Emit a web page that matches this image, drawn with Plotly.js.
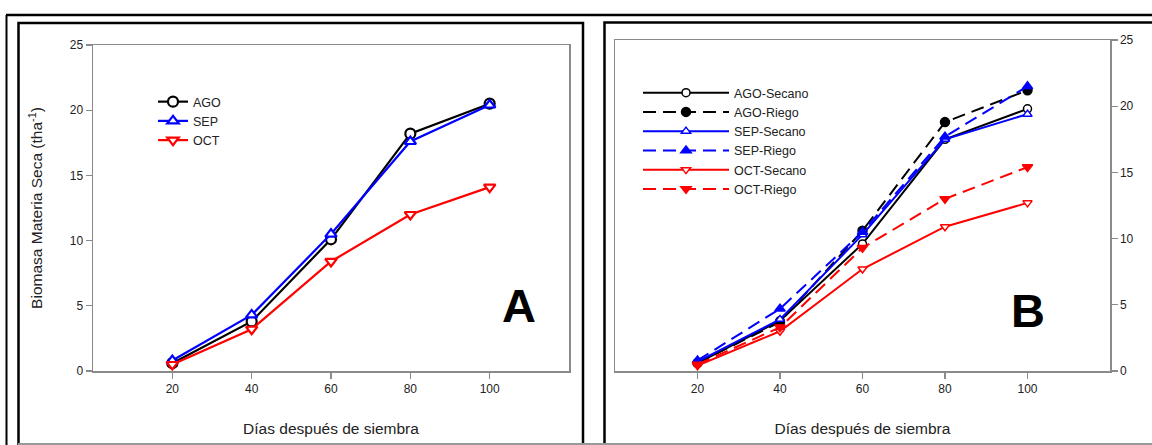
<!DOCTYPE html>
<html>
<head>
<meta charset="utf-8">
<script src="https://cdn.plot.ly/plotly-3.0.1.min.js"></script>
<style>
  html, body { margin: 0; padding: 0; background: #fff; }
  #chart { width: 1152px; height: 445px; }
</style>
</head>
<body>
<div id="chart"></div>
<script>
// ---- Data ----
const days = [20, 40, 60, 80, 100];
const xTickVals = [20, 40, 60, 80, 100];
const xEndTicks = [0, 120];
const yTickVals = [0, 5, 10, 15, 20, 25];
const yInnerTicks = [5, 10, 15, 20];

// Panel A
const namesA = ['AGO', 'SEP', 'OCT'];
const agoA = [0.6, 3.8, 10.1, 18.2, 20.5];
const sepA = [0.8, 4.3, 10.5, 17.6, 20.4];
const octA = [0.5, 3.2, 8.4, 12.0, 14.1];

// Panel B
const namesB = ['AGO-Secano', 'AGO-Riego', 'SEP-Secano', 'SEP-Riego', 'OCT-Secano', 'OCT-Riego'];
const agoSecano = [0.6, 3.8, 9.6, 17.5, 19.8];
const agoRiego  = [0.6, 3.7, 10.6, 18.8, 21.2];
const sepSecano = [0.7, 3.9, 10.3, 17.5, 19.4];
const sepRiego  = [0.8, 4.7, 10.5, 17.7, 21.5];
const octSecano = [0.4, 3.0, 7.7, 10.9, 12.7];
const octRiego  = [0.5, 3.3, 9.3, 13.0, 15.4];

const labelA = 'A';
const labelB = 'B';
const xTitle = 'Días después de siembra';
const yTitle = 'Biomasa Materia Seca (tha<sup>-1</sup>)';

// ---- helpers ----
const W = 1152, H = 445;
const px = x => x / W;
const py = y => 1 - y / H;
const FONT = 'Liberation Sans, Arial, sans-serif';
const AX = '#8a8a8a';

function traceA(name, y, color, symbol) {
  return {
    x: days, y: y, name: name, type: 'scatter', mode: 'lines+markers',
    xaxis: 'x', yaxis: 'y', legend: 'legend',
    line: { color: color, width: 2.2 },
    marker: { symbol: symbol, size: 10, color: '#ffffff', line: { color: color, width: 2.2 } },
    hoverinfo: 'x+y+name'
  };
}
function traceB(name, y, color, symbol, dashed) {
  return {
    x: days, y: y, name: name, type: 'scatter', mode: 'lines+markers',
    xaxis: 'x2', yaxis: 'y2', legend: 'legend2',
    line: { color: color, width: 2, dash: dashed ? '13px,7px' : 'solid' },
    marker: { symbol: symbol, size: dashed ? 9 : 8, color: dashed ? color : '#ffffff',
              line: { color: color, width: 1.5 } },
    hoverinfo: 'x+y+name'
  };
}

const data = [
  traceA(namesA[0], agoA, '#000000', 'circle'),
  traceA(namesA[1], sepA, '#0000ff', 'triangle-up'),
  traceA(namesA[2], octA, '#ff0000', 'triangle-down'),
  traceB(namesB[0], agoSecano, '#000000', 'circle', false),
  traceB(namesB[1], agoRiego, '#000000', 'circle', true),
  traceB(namesB[2], sepSecano, '#0000ff', 'triangle-up', false),
  traceB(namesB[3], sepRiego, '#0000ff', 'triangle-up', true),
  traceB(namesB[4], octSecano, '#ff0000', 'triangle-down', false),
  traceB(namesB[5], octRiego, '#ff0000', 'triangle-down', true)
];

const tickFont = { family: FONT, size: 12, color: '#222' };
const titleFont = { family: FONT, size: 15.5, color: '#222' };

function xAxis(domain, anchor) {
  return {
    domain: domain, anchor: anchor, range: [0, 120],
    tickmode: 'array', tickvals: xTickVals,
    ticks: 'outside', ticklen: 6, tickwidth: 1.2, tickcolor: AX,
    showline: true, linecolor: AX, linewidth: 1.5, mirror: true,
    showgrid: false, zeroline: false, tickfont: tickFont,
    title: { text: xTitle, font: titleFont, standoff: 28 },
    automargin: false, fixedrange: true
  };
}
function endTickAxis(over, anchor) {
  return {
    overlaying: over, anchor: anchor, side: 'bottom', range: [0, 120],
    tickmode: 'array', tickvals: xEndTicks,
    ticks: 'outside', ticklen: 6, tickwidth: 1.2, tickcolor: AX,
    showticklabels: false, showline: false, showgrid: false, zeroline: false,
    fixedrange: true
  };
}
function innerTickAxis(over, anchor, side) {
  return {
    overlaying: over, anchor: anchor, side: side, range: [0, 25],
    tickmode: 'array', tickvals: yInnerTicks,
    ticks: 'inside', ticklen: 6, tickwidth: 1.2, tickcolor: AX,
    showticklabels: false, showline: false, showgrid: false, zeroline: false,
    fixedrange: true
  };
}

const layout = {
  width: W, height: H,
  margin: { l: 0, r: 0, t: 0, b: 0 },
  paper_bgcolor: '#ffffff', plot_bgcolor: '#ffffff',
  font: { family: FONT, size: 12, color: '#222' },
  showlegend: true,
  xaxis: xAxis([px(93), px(569)], 'y'),
  yaxis: {
    domain: [py(371), py(45)], anchor: 'x', range: [0, 25],
    tickmode: 'array', tickvals: yTickVals,
    ticks: 'outside', ticklen: 6, tickwidth: 1.2, tickcolor: AX,
    showline: true, linecolor: AX, linewidth: 1.5, mirror: true,
    showgrid: false, zeroline: false, tickfont: tickFont,
    title: { text: yTitle, font: titleFont, standoff: 23 },
    automargin: false, fixedrange: true
  },
  yaxis3: innerTickAxis('y', 'x', 'right'),
  xaxis3: endTickAxis('x', 'y'),
  xaxis2: xAxis([px(615), px(1110)], 'y2'),
  yaxis2: {
    domain: [py(371), py(40)], anchor: 'x2', side: 'right', range: [0, 25],
    tickmode: 'array', tickvals: yTickVals,
    ticks: 'outside', ticklen: 6, tickwidth: 1.2, tickcolor: AX,
    showline: true, linecolor: AX, linewidth: 1.5, mirror: true,
    showgrid: false, zeroline: false, tickfont: tickFont,
    automargin: false, fixedrange: true
  },
  yaxis4: innerTickAxis('y2', 'x2', 'left'),
  xaxis4: endTickAxis('x2', 'y2'),
  legend: {
    x: px(153), y: py(87), xanchor: 'left', yanchor: 'top',
    bgcolor: 'rgba(0,0,0,0)', borderwidth: 0,
    font: { family: FONT, size: 12.5, color: '#222' },
    itemwidth: 30, tracegroupgap: 0
  },
  legend2: {
    x: px(638), y: py(78), xanchor: 'left', yanchor: 'top',
    bgcolor: 'rgba(0,0,0,0)', borderwidth: 0,
    font: { family: FONT, size: 12.5, color: '#222' },
    itemwidth: 86, tracegroupgap: 0
  },
  annotations: [
    { text: '<b>' + labelA + '</b>', xref: 'paper', yref: 'paper', x: px(519), y: py(305),
      xanchor: 'center', yanchor: 'middle', showarrow: false,
      font: { family: FONT, size: 47, color: '#000' } },
    { text: '<b>' + labelB + '</b>', xref: 'paper', yref: 'paper', x: px(1028), y: py(310),
      xanchor: 'center', yanchor: 'middle', showarrow: false,
      font: { family: FONT, size: 47, color: '#000' } }
  ],
  shapes: [
    { type: 'line', xref: 'paper', yref: 'paper', x0: px(6), x1: px(1152), y0: py(15), y1: py(15),
      line: { color: '#000', width: 2.5 } },
    { type: 'line', xref: 'paper', yref: 'paper', x0: px(6.5), x1: px(6.5), y0: py(15), y1: py(450),
      line: { color: '#000', width: 2 } },
    { type: 'rect', xref: 'paper', yref: 'paper', x0: px(18.5), x1: px(583), y0: py(23), y1: py(470),
      line: { color: '#000', width: 2.5 } },
    { type: 'rect', xref: 'paper', yref: 'paper', x0: px(604.5), x1: px(1170), y0: py(22.5), y1: py(470),
      line: { color: '#000', width: 2.5 } },
    { type: 'line', xref: 'paper', yref: 'paper', x0: px(18), x1: px(1152), y0: py(444), y1: py(444),
      line: { color: '#999', width: 2 } }
  ]
};

Plotly.newPlot('chart', data, layout, { displayModeBar: false, staticPlot: true });
</script>
</body>
</html>
